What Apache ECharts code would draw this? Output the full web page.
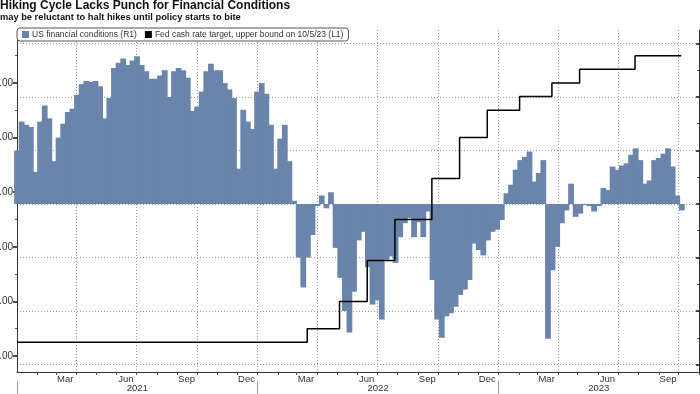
<!DOCTYPE html>
<html><head><meta charset="utf-8">
<script src="https://cdn.jsdelivr.net/npm/echarts@6/dist/echarts.min.js"></script>
<style>html,body{margin:0;padding:0;background:#fff}#c{width:700px;height:394px}</style>
</head><body><div id="c"></div>
<script>
const titleText = 'Hiking Cycle Lacks Punch for Financial Conditions';
const subtitleText = 'may be reluctant to halt hikes until policy starts to bite';
const fciName = 'US financial conditions (R1)';
const fedName = 'Fed cash rate target, upper bound on 10/5/23 (L1)';

// Weekly observations (Fridays) starting 2021-01-01
const fciStart = '2021-01-01';
const fciValues = [
  0.50, 0.77, 0.74, 0.72, 0.30, 0.77, 0.92, 0.80, 0.40, 0.62,
  0.75, 0.86, 0.89, 1.02, 1.12, 1.15, 1.14, 1.15, 1.10, 0.80,
  0.99, 1.27, 1.32, 1.36, 1.30, 1.34, 1.38, 1.30, 1.24, 1.17,
  1.17, 1.20, 1.25, 1.00, 1.24, 1.27, 1.25, 1.18, 0.87, 0.91,
  1.05, 1.24, 1.31, 1.25, 1.25, 1.13, 1.07, 0.99, 0.33, 0.88,
  0.77, 0.70, 1.05, 1.13, 1.03, 0.74, 0.33, 0.61, 0.74, 0.40,
  0.03, -0.50, -0.78, -0.50, -0.29, -0.02, 0.08, -0.04, 0.11, -0.41,
  -0.69, -1.00, -1.20, -0.82, -0.34, -0.26, -0.59, -0.94, -0.90, -1.08,
  -0.52, -0.49, -0.55, -0.31, -0.18, -0.13, -0.31, -0.17, -0.31, -0.07,
  -0.71, -1.08, -1.25, -1.05, -1.02, -0.96, -0.85, -0.80, -0.71, -0.37,
  -0.43, -0.48, -0.34, -0.26, -0.24, -0.15, 0.10, 0.18, 0.32, 0.41,
  0.44, 0.49, 0.21, 0.29, 0.41, -1.26, -0.62, -0.40, -0.18, -0.06,
  0.19, -0.12, -0.09, -0.01, -0.02, -0.07, -0.02, 0.15, 0.13, 0.35,
  0.32, 0.36, 0.38, 0.46, 0.52, 0.41, 0.19, 0.22, 0.41, 0.43,
  0.47, 0.52, 0.35, 0.08, -0.06
];

const fedDates = ['2021-01-01','2022-03-17','2022-05-05','2022-06-16','2022-07-28','2022-09-22',
                  '2022-11-03','2022-12-15','2023-02-02','2023-03-23','2023-05-04','2023-07-27','2023-10-05'];
const fedRates = [0.25, 0.50, 1.00, 1.75, 2.50, 3.25, 4.00, 4.50, 4.75, 5.00, 5.25, 5.50, 5.50];

const monthNames = ['Jan','Feb','Mar','Apr','May','Jun','Jul','Aug','Sep','Oct','Nov','Dec'];
const labelMonths = [2, 5, 8, 11];
const years = [2021, 2022, 2023];
const leftTicks = [0, 1, 2, 3, 4, 5];
const leftMinor = [0.5, 1.5, 2.5, 3.5, 4.5, 5.5];
const rightTicks = [-1.5, -1, -0.5, 0, 0.5, 1, 1.5];
const rightMinor = [-1.25, -0.75, -0.25, 0.25, 0.75, 1.25];

const DAY = 86400000;
const xMin = Date.UTC(2021, 0, 1);
const xMax = Date.UTC(2023, 10, 1);

const monthStarts = [], quarterStarts = [], monthLabelVals = [], yearTicks = [], yearLabelVals = [];
years.forEach(y => {
  for (let m = 0; m < 12; m++) {
    const t = Date.UTC(y, m, 1);
    if (t > xMin && t <= xMax) monthStarts.push(t);
    if (m % 3 === 0 && t > xMin && t < xMax) quarterStarts.push(t);
  }
  labelMonths.forEach(m => { const t = Date.UTC(y, m, 15); if (t < xMax) monthLabelVals.push(t); });
  const s = Date.UTC(y, 0, 1), e = Math.min(Date.UTC(y + 1, 0, 1), xMax);
  yearTicks.push(s);
  yearLabelVals.push((s + e) / 2);
});

const t0 = Date.parse(fciStart);
const fciData = fciValues.map((v, i) => [t0 + i * 7 * DAY, v]);
const fedData = fedDates.map((d, i) => [Date.parse(d), fedRates[i]]);

const gridStyle = { color: '#a0a0a0', type: [1, 2], width: 1 };
const txt = '#333';
const barColor = '#6a84ab';

const chart = echarts.init(document.getElementById('c'), null, { renderer: 'canvas' });
chart.setOption({
  animation: false,
  backgroundColor: '#fff',
  title: [
    { text: titleText, left: 0, top: 0, padding: 0,
      textStyle: { fontSize: 12, fontWeight: 'bold', color: '#111', fontFamily: 'Liberation Sans' } },
    { text: subtitleText, left: 0, top: 13, padding: 0,
      textStyle: { fontSize: 9.3, fontWeight: 'bold', color: '#111', fontFamily: 'Liberation Sans' } }
  ],
  legend: {
    left: 17, top: 28, padding: [2, 5], itemGap: 8, itemWidth: 7, itemHeight: 7,
    borderColor: '#555', borderWidth: 1, borderRadius: 3, backgroundColor: '#fff',
    textStyle: { fontSize: 8.5, color: txt, fontFamily: 'Liberation Sans', padding: [0, 0, 0, -2] },
    data: [{ name: fciName, icon: 'rect' }, { name: fedName, icon: 'rect' }]
  },
  grid: { left: 17, right: 1, top: 30, bottom: 22, containLabel: false, outerBoundsMode: 'none' },
  xAxis: [
    { type: 'value', min: xMin, max: xMax, position: 'bottom',
      axisLine: { show: true, onZero: false, lineStyle: { color: '#333', width: 1 } },
      axisTick: { show: true, customValues: monthStarts, length: 3, lineStyle: { color: '#555' } },
      axisLabel: { customValues: monthLabelVals, margin: 2, fontSize: 9.5, color: txt, fontFamily: 'Liberation Sans',
        formatter: v => monthNames[new Date(v).getUTCMonth()] },
      splitLine: { show: false } },
    { type: 'value', min: xMin, max: xMax, position: 'top',
      axisLine: { show: false, onZero: false },
      axisTick: { show: false, customValues: quarterStarts },
      axisLabel: { show: false },
      splitLine: { show: true, lineStyle: gridStyle } },
    { type: 'value', min: xMin, max: xMax, position: 'bottom', offset: 9,
      axisLine: { show: false, onZero: false },
      axisTick: { show: true, customValues: yearTicks, length: 14, lineStyle: { color: '#999' } },
      axisLabel: { customValues: yearLabelVals, margin: 2, fontSize: 9.5, color: txt, fontFamily: 'Liberation Sans',
        formatter: v => String(new Date(v).getUTCFullYear()) },
      splitLine: { show: false } }
  ],
  yAxis: [
    { type: 'value', min: -0.293, max: 5.97, position: 'left',
      axisLine: { show: true, onZero: false, lineStyle: { color: '#333' } },
      axisTick: { show: true, customValues: leftTicks, length: 4, lineStyle: { color: '#111', width: 1.5 } },
      axisLabel: { customValues: leftTicks, margin: 4, fontSize: 10, color: txt, fontFamily: 'Liberation Sans',
        formatter: v => v.toFixed(2) },
      splitLine: { show: false } },
    { type: 'value', min: -1.57, max: 1.626, position: 'right',
      axisLine: { show: true, onZero: false, lineStyle: { color: '#333' } },
      axisTick: { show: true, inside: true, customValues: rightTicks, length: 3, lineStyle: { color: '#111', width: 1.5 } },
      axisLabel: { show: false },
      splitLine: { show: true, lineStyle: gridStyle } },
    { type: 'value', min: -0.293, max: 5.97, position: 'left',
      axisLine: { show: false, onZero: false },
      axisTick: { show: true, customValues: leftMinor, length: 2, lineStyle: { color: '#555' } },
      axisLabel: { show: false }, splitLine: { show: false } },
    { type: 'value', min: -1.57, max: 1.626, position: 'right',
      axisLine: { show: false, onZero: false },
      axisTick: { show: true, inside: true, customValues: rightMinor, length: 2, lineStyle: { color: '#555' } },
      axisLabel: { show: false }, splitLine: { show: false } }
  ],
  series: [
    { name: fciName, type: 'bar', xAxisIndex: 0, yAxisIndex: 1, data: fciData,
      barWidth: '125%', itemStyle: { color: barColor } },
    { name: fedName, type: 'line', xAxisIndex: 0, yAxisIndex: 0, data: fedData, step: 'end',
      showSymbol: false, itemStyle: { color: '#000' }, lineStyle: { color: '#000', width: 1.5 } }
  ]
});
</script></body></html>
